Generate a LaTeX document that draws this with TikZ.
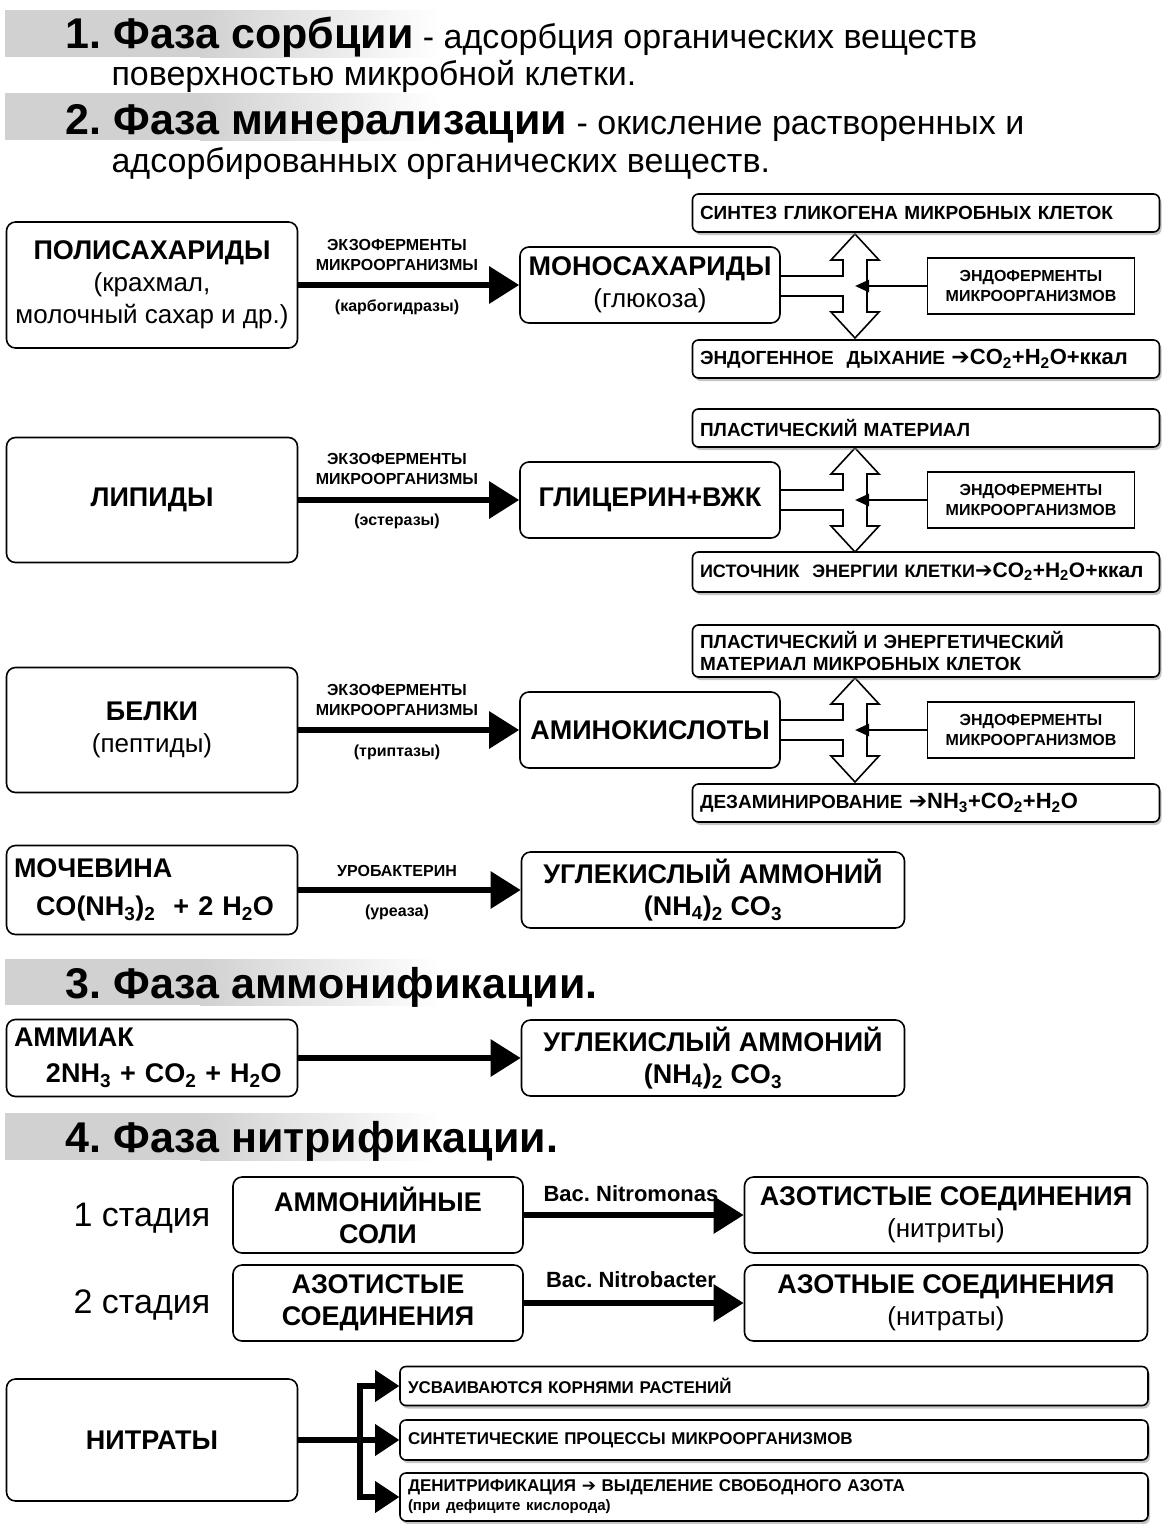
\documentclass[tikz,border=0pt]{standalone}
\usepackage{fontspec}
\setmainfont{Liberation Sans}
\newfontfamily\arrowfont{DejaVu Sans}
\usetikzlibrary{arrows.meta,shadows}
\newcommand{\dn}[1]{\textsubscript{#1}}
\newcommand{\fsz}[1]{\fontsize{#1}{#1}\selectfont}
\newcommand{\toarr}{{\arrowfont ➔}}
\frenchspacing
\begin{document}
\begin{tikzpicture}[x=1pt,y=-1pt,
    box/.style={draw,line width=1.6pt,rounded corners=9pt,align=center,inner sep=2pt,fill=white},
    srcbox/.style={box,minimum width=291pt},
    midbox/.style={box,minimum width=260pt,minimum height=76pt,font=\fontsize{27}{32}\selectfont\bfseries},
    outbox/.style={box,rounded corners=6pt,minimum width=467pt,text width=452pt,align=left,
      font=\fontsize{19}{22}\selectfont\bfseries,
      drop shadow={shadow xshift=2pt,shadow yshift=-3pt,fill=black!45}},
    endobox/.style={draw,line width=1.6pt,fill=white,minimum width=207pt,minimum height=56pt,align=center,
      font=\fontsize{16}{20}\selectfont\bfseries},
    flow/.style={line width=6pt,-{Triangle[length=30pt,width=36pt]}},
    feed/.style={line width=2.5pt,-{Triangle[length=14pt,width=12pt]}},
    lab/.style={font=\fontsize{16}{20}\selectfont\bfseries,align=center},
    big/.style={font=\fontsize{27}{32}\selectfont\bfseries},
    head/.style={anchor=base west,font=\fontsize{34}{40}\selectfont},
    stage/.style={font=\fontsize{34}{40}\selectfont},
  ]
  \useasboundingbox (0,0) rectangle (1164,1524);
  \foreach \a/\b in {10/57,93/140,959/1005,1113/1160} {
    \fill[black!18] (5,\a) rectangle (200,\b);
    \shade[left color=black!18,right color=white] (200,\a) rectangle (440,\b);
  }
  \node[head] (t1) at (62,48) {{\fontsize{43}{48}\selectfont\bfseries 1. Фаза сорбции} - адсорбция органических веществ};
  \node[head] (t1b) at (108,85) {поверхностью микробной клетки.};
  \node[head] (t2) at (62,134) {{\fontsize{43}{48}\selectfont\bfseries 2. Фаза минерализации} - окисление растворенных и};
  \node[head] (t2b) at (108,172) {адсорбированных органических веществ.};
  \node[head,font=\fontsize{43}{48}\selectfont\bfseries] (t3) at (62,998) {3. Фаза аммонификации.};
  \node[head,font=\fontsize{43}{48}\selectfont\bfseries] (t4) at (62,1152) {4. Фаза нитрификации.};

  \foreach \c/\n in {286/a,500/b,730/c} {
    \draw[line width=1.6pt,fill=white,line join=miter] (779,\c-10) -- (843,\c-10) -- (843,\c-26) -- (831,\c-26)
      -- (855,\c-52) -- (879,\c-26) -- (867,\c-26) -- (867,\c+26) -- (879,\c+26) -- (855,\c+52)
      -- (831,\c+26) -- (843,\c+26) -- (843,\c+10) -- (779,\c+10);
    \node[endobox] (endo\n) at (1031,\c) {ЭНДОФЕРМЕНТЫ\\МИКРООРГАНИЗМОВ};
    \coordinate (hub\n) at (855,\c);
    \draw[feed] (endo\n) -- (hub\n);
  }

  \node[srcbox,minimum height=126pt,font=\fontsize{26}{32}\selectfont] (poly) at (152,285)
    {{\bfseries\fsz{27}ПОЛИСАХАРИДЫ}\\(крахмал,\\молочный сахар и др.)};
  \node[midbox] (mono) at (650,285) {МОНОСАХАРИДЫ\\{\mdseries\fsz{26}(глюкоза)}};
  \draw[flow] (poly) -- (mono);
  \node[lab] (exoa) at (397,255) {ЭКЗОФЕРМЕНТЫ\\МИКРООРГАНИЗМЫ};
  \node[lab] (carbo) at (397,307) {(карбогидразы)};
  \node[outbox,minimum height=38pt] (glyco) at (926,213) {СИНТЕЗ ГЛИКОГЕНА МИКРОБНЫХ КЛЕТОК};
  \node[outbox,minimum height=38pt] (resp) at (926,359) {ЭНДОГЕННОЕ\ \ ДЫХАНИЕ {\fsz{22}\toarr CO\dn2+H\dn2O+ккал}};

  \node[srcbox,minimum height=125pt,big] (lip) at (152,500) {ЛИПИДЫ};
  \node[midbox] (glyc) at (650,500) {ГЛИЦЕРИН+ВЖК};
  \draw[flow] (lip) -- (glyc);
  \node[lab] (exob) at (397,469) {ЭКЗОФЕРМЕНТЫ\\МИКРООРГАНИЗМЫ};
  \node[lab] (ester) at (397,521) {(эстеразы)};
  \node[outbox,minimum height=38pt] (plast) at (926,428) {ПЛАСТИЧЕСКИЙ МАТЕРИАЛ};
  \node[outbox,minimum height=40pt] (energy) at (926,572) {{\fsz{18}ИСТОЧНИК\ \ ЭНЕРГИИ КЛЕТКИ}{\fsz{21}\toarr CO\dn2+H\dn2O+ккал}};

  \node[srcbox,minimum height=125pt,font=\fontsize{26}{32}\selectfont] (prot) at (152,730)
    {{\bfseries\fsz{27}БЕЛКИ}\\(пептиды)};
  \node[midbox] (amino) at (650,730) {АМИНОКИСЛОТЫ};
  \draw[flow] (prot) -- (amino);
  \node[lab] (exoc) at (397,700) {ЭКЗОФЕРМЕНТЫ\\МИКРООРГАНИЗМЫ};
  \node[lab] (trypt) at (397,752) {(триптазы)};
  \node[outbox,minimum height=52pt] (plen) at (926,651) {ПЛАСТИЧЕСКИЙ И ЭНЕРГЕТИЧЕСКИЙ\\МАТЕРИАЛ МИКРОБНЫХ КЛЕТОК};
  \node[outbox,minimum height=38pt] (deam) at (926,803) {ДЕЗАМИНИРОВАНИЕ {\fsz{22}\toarr NH\dn3+CO\dn2+H\dn2O}};

  \node[srcbox,minimum height=89pt,text width=276pt,align=left,big] (urea) at (152,890)
    {МОЧЕВИНА\\[6pt]\hspace*{22pt}CO(NH\dn3)\dn2\ \ + 2 H\dn2O};
  \node[midbox,minimum width=383pt] (carb) at (713,890) {УГЛЕКИСЛЫЙ АММОНИЙ\\(NH\dn4)\dn2 CO\dn3};
  \draw[flow] (urea) -- (carb);
  \node[lab] (urob) at (397,871) {УРОБАКТЕРИН};
  \node[lab] (ureaz) at (397,912) {(уреаза)};

  \node[srcbox,minimum height=77pt,text width=276pt,align=left,big] (amm) at (152,1058)
    {АММИАК\\[4pt]\hspace*{32pt}2NH\dn3 + CO\dn2 + H\dn2O};
  \node[midbox,minimum width=383pt] (carbb) at (713,1058) {УГЛЕКИСЛЫЙ АММОНИЙ\\(NH\dn4)\dn2 CO\dn3};
  \draw[flow] (amm) -- (carbb);

  \node[stage] (st1) at (142,1218) {1 стадия};
  \node[stage] (st2) at (142,1305) {2 стадия};
  \node[box,minimum width=290pt,minimum height=76pt,big] (salt) at (378,1215) {АММОНИЙНЫЕ\\СОЛИ};
  \node[box,minimum width=403pt,minimum height=76pt,big] (nitrite) at (946,1215) {АЗОТИСТЫЕ СОЕДИНЕНИЯ\\{\mdseries\fsz{26}(нитриты)}};
  \draw[flow] (salt) -- (nitrite);
  \node[font=\fontsize{22}{26}\selectfont\bfseries] (monas) at (631,1194) {Bac. Nitromonas};
  \node[box,minimum width=290pt,minimum height=76pt,big] (azot) at (378,1303) {АЗОТИСТЫЕ\\СОЕДИНЕНИЯ};
  \node[box,minimum width=403pt,minimum height=76pt,big] (nitrate) at (946,1303) {АЗОТНЫЕ СОЕДИНЕНИЯ\\{\mdseries\fsz{26}(нитраты)}};
  \draw[flow] (azot) -- (nitrate);
  \node[font=\fontsize{22}{26}\selectfont\bfseries] (bacter) at (631,1280) {Bac. Nitrobacter};

  \node[srcbox,minimum height=122pt,big] (nitr) at (152,1440) {НИТРАТЫ};
  \node[outbox,minimum width=748pt,text width=732pt,minimum height=39pt,font=\fontsize{17}{20}\selectfont\bfseries] (use) at (774,1386) {УСВАИВАЮТСЯ КОРНЯМИ РАСТЕНИЙ};
  \node[outbox,minimum width=748pt,text width=732pt,minimum height=40pt,font=\fontsize{17}{20}\selectfont\bfseries] (synth) at (774,1440) {СИНТЕТИЧЕСКИЕ ПРОЦЕССЫ МИКРООРГАНИЗМОВ};
  \node[outbox,minimum width=748pt,text width=732pt,minimum height=48pt,font=\fontsize{17}{19}\selectfont\bfseries] (denit) at (774,1497) {ДЕНИТРИФИКАЦИЯ \toarr\ ВЫДЕЛЕНИЕ СВОБОДНОГО АЗОТА\\{\fsz{15}(при дефиците кислорода)}};
  \coordinate (fkuse) at (360,1386);
  \coordinate (fksynth) at (360,1440);
  \coordinate (fkdenit) at (360,1497);
  \draw[line width=6pt] (nitr) -- (fksynth);
  \draw[line width=6pt,line cap=rect] (fkuse) -- (fkdenit);
  \foreach \t in {use,synth,denit} {
    \draw[line width=6pt] (fk\t) -- ([xshift=-20pt]\t.west);
    \fill ([xshift=-24pt,yshift=16pt]\t.west) -- (\t.west) -- ([xshift=-24pt,yshift=-16pt]\t.west) -- cycle;
  }
\end{tikzpicture}
\end{document}
